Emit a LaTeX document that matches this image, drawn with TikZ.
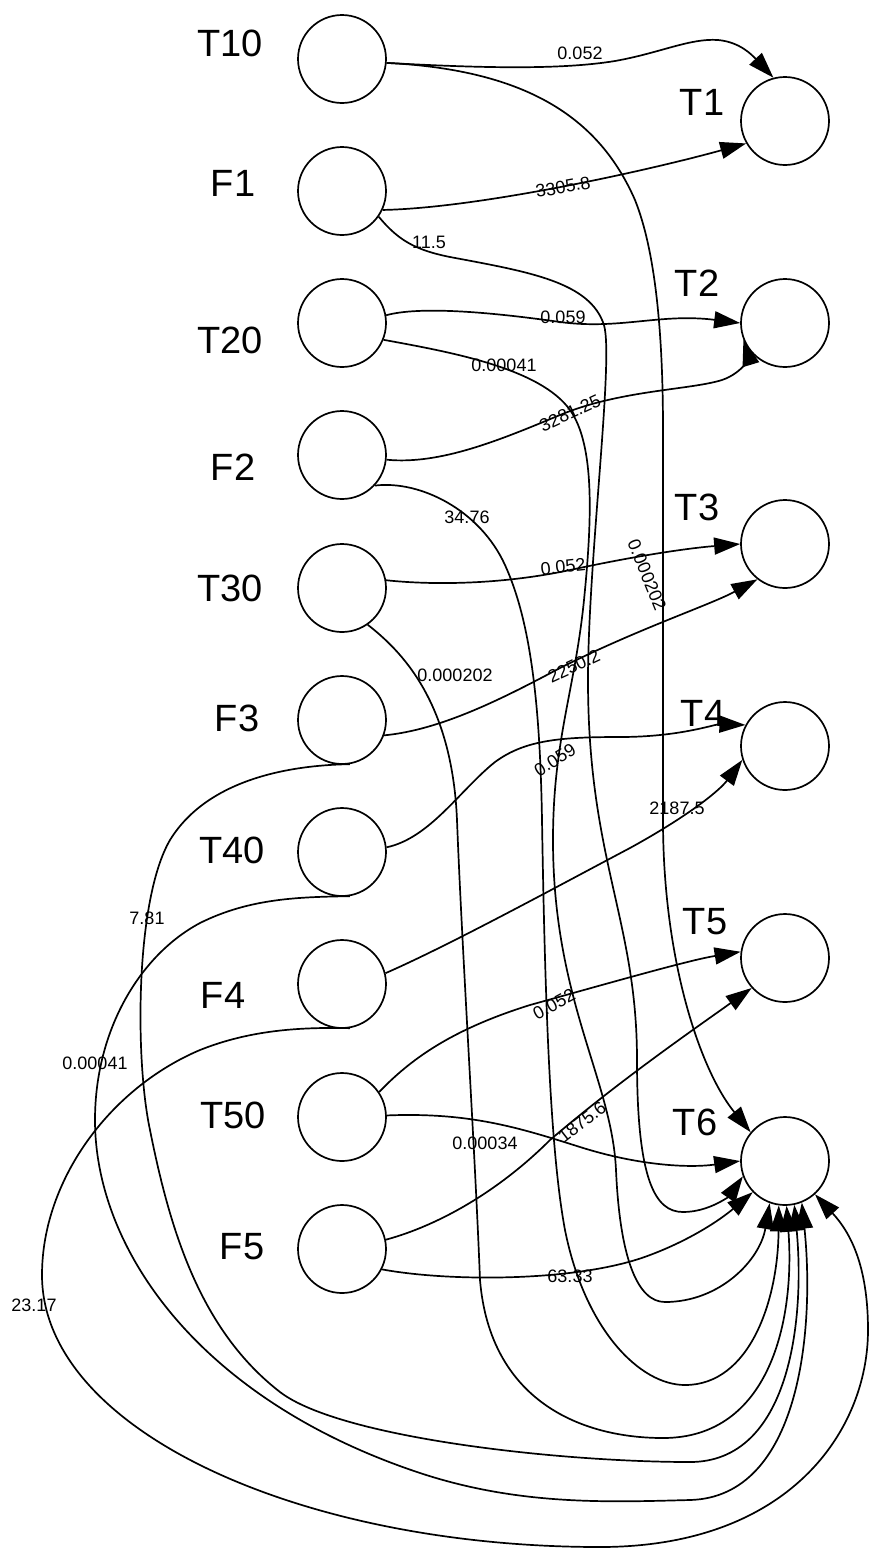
\documentclass[tikz,border=0pt]{standalone}
\usepackage{fontspec}
\setmainfont{Liberation Sans}
\usetikzlibrary{arrows.meta}
\begin{document}
\begin{tikzpicture}[x=0.5pt,y=-0.5pt,
  state/.style={circle,draw,line width=0.85pt,minimum size=44pt,inner sep=0pt},
  nlabel/.style={font=\fontsize{19}{21}\selectfont,inner sep=0pt},
  elabel/.style={font=\fontsize{9}{10}\selectfont,inner sep=0pt},
  edge/.style={line width=0.85pt,-{Triangle[length=13pt,width=8.5pt]}}]
\useasboundingbox (0,0) rectangle (871,1549);
% left nodes
\node[state] (T10) at (342,59) {};
\node[state] (F1) at (342,191) {};
\node[state] (T20) at (342,323) {};
\node[state] (F2) at (342,455) {};
\node[state] (T30) at (342,588) {};
\node[state] (F3) at (342,720) {};
\node[state] (T40) at (342,852) {};
\node[state] (F4) at (342,984) {};
\node[state] (T50) at (342,1117) {};
\node[state] (F5) at (342,1249) {};
% right nodes
\node[state] (T1) at (785,121) {};
\node[state] (T2) at (785,323) {};
\node[state] (T3) at (785,544) {};
\node[state] (T4) at (785,746) {};
\node[state] (T5) at (785,958) {};
\node[state] (T6) at (785,1161) {};
% node names
\node[nlabel] (nT10) at (230,43) {T10};
\node[nlabel] (nF1) at (233,183) {F1};
\node[nlabel] (nT20) at (230,340) {T20};
\node[nlabel] (nF2) at (233,467) {F2};
\node[nlabel] (nT30) at (230,588) {T30};
\node[nlabel] (nF3) at (237,718) {F3};
\node[nlabel] (nT40) at (232,850) {T40};
\node[nlabel] (nF4) at (223,995) {F4};
\node[nlabel] (nT50) at (233,1115) {T50};
\node[nlabel] (nF5) at (242,1247) {F5};
\node[nlabel] (nT1) at (702,102) {T1};
\node[nlabel] (nT2) at (697,283) {T2};
\node[nlabel] (nT3) at (697,507) {T3};
\node[nlabel] (nT4) at (703,713) {T4};
\node[nlabel] (nT5) at (705,922) {T5};
\node[nlabel] (nT6) at (695,1122) {T6};
% edges to T1..T5
\draw[edge] (T10.-5) .. controls (480,68) and (560,70) .. (615,61) .. controls (660,53) and (690,38) .. (718,40) .. controls (740,42) and (752,55) .. (T1.105);
\draw[edge] (F1.-25) .. controls (480,208) and (650,170) .. (T1.210);
\draw[edge] (T20.10) .. controls (420,306) and (490,312) .. (560,322) .. controls (620,330) and (660,313) .. (T2.180);
\draw[edge] (F2.-6) .. controls (440,465) and (500,440) .. (560,415) .. controls (620,390) and (690,390) .. (722,380) .. controls (745,372) and (748,355) .. (T2.202);
\draw[edge] (T30.10) .. controls (430,585) and (500,585) .. (570,570) .. controls (640,555) and (690,548) .. (T3.180);
\draw[edge] (F3.-20) .. controls (440,730) and (500,700) .. (560,668) .. controls (640,628) and (710,605) .. (T3.232);
\draw[edge] (T40.6) .. controls (430,838) and (460,790) .. (495,762) .. controls (525,740) and (560,737) .. (620,737) .. controls (680,737) and (715,724) .. (T4.152);
\draw[edge] (F4.14) .. controls (450,945) and (560,885) .. (630,848) .. controls (690,815) and (720,790) .. (T4.198);
\draw[edge] (T50.34) .. controls (410,1060) and (450,1030) .. (530,1005) .. controls (620,980) and (690,960) .. (T5.172);
\draw[edge] (F5.12) .. controls (440,1225) and (500,1190) .. (550,1140) .. controls (620,1080) and (700,1025) .. (T5.222);
% edges to T6
\draw[edge] (T10.-5) .. controls (530,70) and (600,120) .. (635,200) .. controls (655,250) and (663,330) .. (663,430) -- (663,820) .. controls (663,960) and (700,1070) .. (T6.140);
\draw[edge] (F1.-35) .. controls (398,240) and (415,250) .. (450,257) .. controls (530,272) and (590,282) .. (604,325) .. controls (614,360) and (588,560) .. (588,680) .. controls (588,860) and (637,920) .. (637,1060) .. controls (637,1180) and (655,1212) .. (683,1212) .. controls (710,1212) and (730,1195) .. (T6.200);
\draw[edge] (T20.-22) .. controls (450,352) and (540,368) .. (570,410) .. controls (595,445) and (592,520) .. (584,600) .. controls (575,690) and (553,740) .. (553,840) .. controls (553,1000) and (612,1080) .. (616,1170) .. controls (620,1260) and (638,1302) .. (665,1302) .. controls (720,1302) and (760,1260) .. (T6.250);
\draw[edge] (F2.-43) .. controls (420,480) and (480,510) .. (505,565) .. controls (530,620) and (540,700) .. (542,820) .. controls (545,1000) and (550,1150) .. (565,1230) .. controls (585,1330) and (640,1385) .. (685,1385) .. controls (750,1385) and (778,1300) .. (T6.262);
\draw[edge] (T30.-55) .. controls (400,650) and (452,700) .. (457,820) .. controls (462,950) and (475,1150) .. (480,1280) .. controls (490,1400) and (580,1438) .. (663,1438) .. controls (770,1438) and (795,1320) .. (T6.272);
\draw[edge] (F3.-80) .. controls (300,765) and (210,775) .. (170,840) .. controls (135,900) and (135,1060) .. (150,1130) .. controls (170,1230) and (200,1330) .. (280,1392) .. controls (340,1438) and (560,1462) .. (690,1462) .. controls (790,1462) and (805,1320) .. (T6.282);
\draw[edge] (T40.-80) .. controls (300,897) and (250,898) .. (200,923) .. controls (140,955) and (95,1030) .. (95,1120) .. controls (95,1250) and (200,1400) .. (420,1473) .. controls (520,1506) and (610,1502) .. (690,1500) .. controls (800,1497) and (815,1330) .. (T6.292);
\draw[edge] (F4.-80) .. controls (300,1027) and (250,1030) .. (200,1050) .. controls (110,1088) and (42,1180) .. (42,1275) .. controls (42,1430) and (300,1547) .. (600,1547) .. controls (790,1547) and (868,1430) .. (868,1330) .. controls (868,1265) and (850,1232) .. (T6.312);
\draw[edge] (T50.2) .. controls (470,1112) and (520,1128) .. (580,1147) .. controls (640,1166) and (690,1168) .. (T6.180);
\draw[edge] (F5.-27) .. controls (450,1282) and (580,1282) .. (650,1255) .. controls (690,1240) and (720,1220) .. (T6.224);
% edge labels
\node[elabel] (l1) at (580,53) {0.052};
\node[elabel,rotate=10] (l2) at (563,187) {3305.8};
\node[elabel] (l3) at (429,242) {11.5};
\node[elabel] (l4) at (563,317) {0.059};
\node[elabel] (l5) at (504,365) {0.00041};
\node[elabel,rotate=25] (l6) at (570,413) {3281.25};
\node[elabel] (l7) at (467,517) {34.76};
\node[elabel,rotate=-68] (l8) at (647,575) {0.000202};
\node[elabel,rotate=6] (l9) at (563,567) {0.052};
\node[elabel] (l10) at (455,675) {0.000202};
\node[elabel,rotate=25] (l11) at (574,666) {2250.2};
\node[elabel,rotate=32] (l12) at (555,760) {0.059};
\node[elabel] (l13) at (677,808) {2187.5};
\node[elabel] (l14) at (147,918) {7.81};
\node[elabel,rotate=28] (l15) at (554,1004) {0.052};
\node[elabel] (l16) at (95,1063) {0.00041};
\node[elabel,rotate=38] (l17) at (582,1122) {1875.6};
\node[elabel] (l18) at (485,1143) {0.00034};
\node[elabel] (l19) at (34,1305) {23.17};
\node[elabel] (l20) at (570,1276) {63.33};
\end{tikzpicture}
\end{document}
